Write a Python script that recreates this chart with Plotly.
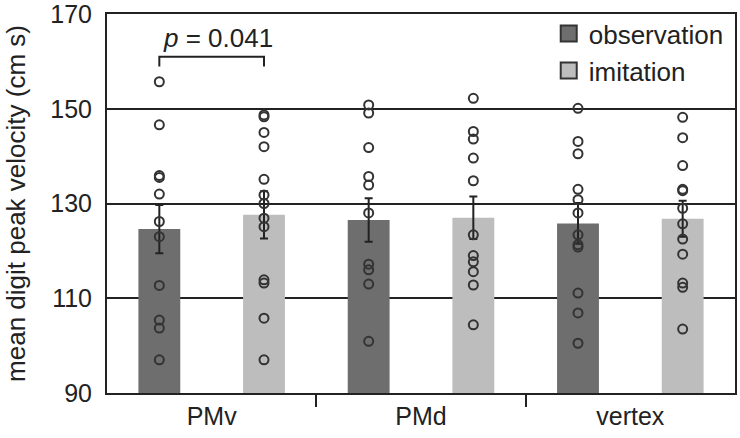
import plotly.graph_objects as go

categories = ["PMv", "PMd", "vertex"]
conditions = ["observation", "imitation"]

obs_mean = [124.6, 126.5, 125.8]
obs_sem = [5.1, 4.6, 4.3]
imi_mean = [127.6, 127.0, 126.8]
imi_sem = [5.0, 4.5, 3.8]

obs_points = [
    [155.7, 146.6, 135.9, 135.5, 132.0, 126.2, 123.0, 112.7, 105.4, 103.7, 97.0],
    [150.8, 149.1, 141.8, 135.7, 133.9, 128.0, 117.2, 116.0, 113.0, 100.9],
    [150.1, 143.1, 140.5, 133.0, 130.8, 128.0, 123.4, 121.3, 120.8, 111.1, 106.9, 100.5],
]
imi_points = [
    [148.7, 148.3, 145.0, 142.0, 135.1, 131.8, 130.0, 126.9, 125.1, 113.9, 113.2, 105.8, 97.0],
    [152.2, 145.2, 143.6, 139.6, 134.8, 123.4, 119.0, 117.7, 115.6, 112.8, 104.4],
    [148.2, 143.9, 138.0, 133.0, 132.7, 129.0, 125.7, 122.5, 119.3, 113.2, 112.3, 103.5],
]

y_ticks = [90, 110, 130, 150, 170]
y_range = [90, 170]
p_text = "<i>p</i> = 0.041"
p_bracket = [158.9, 161.0]   # bracket foot / top in data units
p_group = 0                  # PMv

OBS_COLOR = "#6e6e6e"
IMI_COLOR = "#bdbdbd"
INK = "#222222"
FONT = "Liberation Sans, Arial, sans-serif"
OFFSET = 0.25
BAR_W = 0.2

idx = list(range(len(categories)))
fig = go.Figure()

for means, sems, color, sign in [(obs_mean, obs_sem, OBS_COLOR, -1),
                                 (imi_mean, imi_sem, IMI_COLOR, 1)]:
    fig.add_trace(go.Bar(
        x=[i + sign * OFFSET for i in idx],
        y=[m - y_range[0] for m in means], base=y_range[0], width=BAR_W,
        marker=dict(color=color, line=dict(width=0)),
        error_y=dict(type="data", array=sems, color=INK, thickness=2, width=4),
        showlegend=False, hoverinfo="skip",
    ))

for pts, sign in [(obs_points, -1), (imi_points, 1)]:
    xs, ys = [], []
    for i, group in zip(idx, pts):
        xs += [i + sign * OFFSET] * len(group)
        ys += group
    fig.add_trace(go.Scatter(
        x=xs, y=ys, mode="markers",
        marker=dict(symbol="circle-open", size=9, color="#333333", line=dict(width=2)),
        showlegend=False, hoverinfo="skip",
    ))

for name, color in zip(conditions, [OBS_COLOR, IMI_COLOR]):
    fig.add_trace(go.Scatter(
        x=[None], y=[None], mode="markers", name=name,
        marker=dict(symbol="square", size=22, color=color, line=dict(width=2, color="#333333")),
    ))

# significance bracket
x0, x1 = p_group - OFFSET, p_group + OFFSET
fig.add_shape(type="path",
              path=f"M {x0} {p_bracket[0]} L {x0} {p_bracket[1]} L {x1} {p_bracket[1]} L {x1} {p_bracket[0]}",
              xref="x", yref="y", line=dict(color=INK, width=2))
fig.add_annotation(x=p_group + 0.03, y=p_bracket[1], xref="x", yref="y", text=p_text,
                   showarrow=False, yanchor="bottom", yshift=2,
                   font=dict(size=26, color=INK, family=FONT))

fig.update_layout(
    width=740, height=438,
    margin=dict(l=107, r=5, t=14, b=45, autoexpand=False),
    plot_bgcolor="white", paper_bgcolor="white",
    font=dict(family=FONT, size=25, color=INK),
    barmode="overlay",
    legend=dict(x=0.99, xanchor="right", y=1.01, yanchor="top",
                bgcolor="rgba(0,0,0,0)", itemsizing="trace",
                font=dict(size=26, color=INK), tracegroupgap=0),
    xaxis=dict(range=[-0.5, 2.5], tickmode="array", tickvals=idx, ticktext=categories,
               ticks="", showgrid=False, zeroline=False, automargin=False,
               showline=True, mirror=True, linecolor=INK, linewidth=2,
               ticklabelstandoff=0, tickfont=dict(size=25), ticklabeloverflow="allow",
               minor=dict(tickmode="array", tickvals=[0.5, 1.5], ticks="outside",
                          ticklen=12, tickwidth=2, tickcolor=INK, showgrid=False)),
    yaxis=dict(range=y_range, tickmode="array", tickvals=y_ticks, ticks="",
               showgrid=True, gridcolor=INK, gridwidth=2, zeroline=False, automargin=False,
               showline=True, mirror=True, linecolor=INK, linewidth=2,
               ticklabelstandoff=8, tickfont=dict(size=25), ticklabeloverflow="allow",
               title=dict(text="mean digit peak velocity (cm s)", standoff=17,
                          font=dict(size=26, color=INK, family=FONT))),
)

# remove the browser's default 8px page margin so the figure sits at the window origin
fig.write_html("out.html", config={"displayModeBar": False},
               post_script="document.body.style.margin='0px';")
